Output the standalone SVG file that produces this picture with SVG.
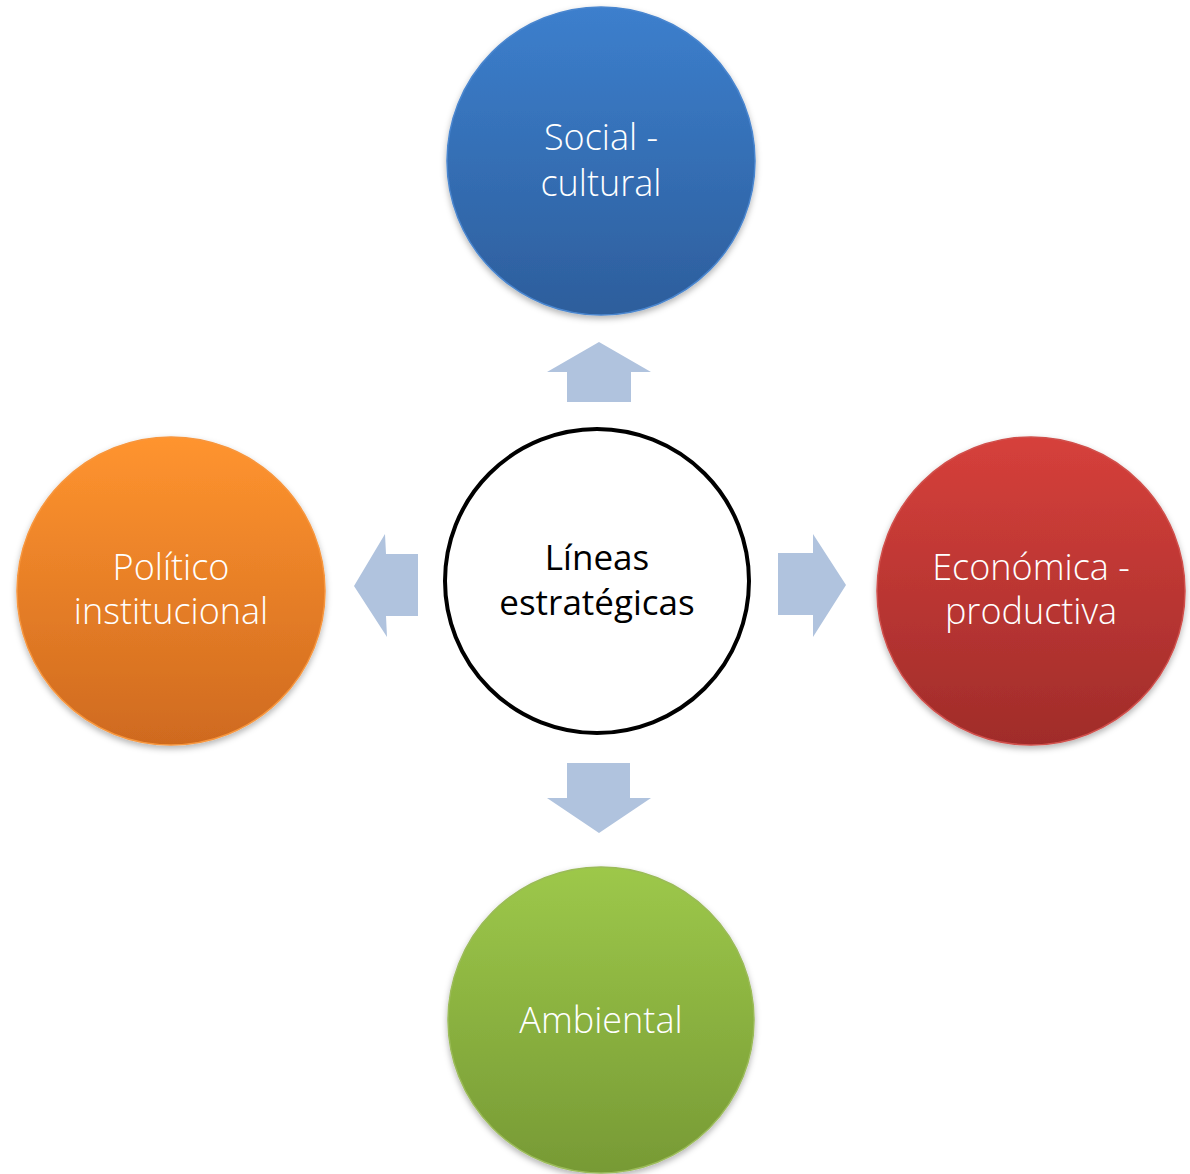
<svg xmlns="http://www.w3.org/2000/svg" width="1190" height="1174" viewBox="0 0 1190 1174">
<style>
.lbl{font-family:"Open Sans","Liberation Sans",sans-serif;font-size:36px;fill:#ffffff;text-anchor:middle;font-weight:300}
.ctr{font-family:"Open Sans","Liberation Sans",sans-serif;font-size:35px;fill:#000000;text-anchor:middle}
.arrow{fill:#b0c3de}
</style>
<defs>
<linearGradient id="gBlue" x1="0" y1="0" x2="0" y2="1"><stop offset="0" stop-color="#3c7fcd"/><stop offset="1" stop-color="#2d5e9c"/></linearGradient>
<linearGradient id="gOrange" x1="0" y1="0" x2="0" y2="1"><stop offset="0" stop-color="#ff942f"/><stop offset="1" stop-color="#cf6a1f"/></linearGradient>
<linearGradient id="gRed" x1="0" y1="0" x2="0" y2="1"><stop offset="0" stop-color="#d6403b"/><stop offset="1" stop-color="#a02c2a"/></linearGradient>
<linearGradient id="gGreen" x1="0" y1="0" x2="0" y2="1"><stop offset="0" stop-color="#9dc84a"/><stop offset="1" stop-color="#779a35"/></linearGradient>
<filter id="sh" x="-20%" y="-20%" width="140%" height="140%"><feDropShadow dx="0" dy="3" stdDeviation="3" flood-color="#000" flood-opacity="0.3"/></filter>
</defs>
<g id="connectors">
<polygon class="arrow" points="599,342 651,372 631,372 631,402 567,402 567,372 547,372"/>
<polygon class="arrow" points="354,586 385,534 386,554 418,554 418,616 386,616 387,637"/>
<polygon class="arrow" points="846,585 813,534 813,553 778,553 778,615 813,615 813,637"/>
<polygon class="arrow" points="599,833 651,798 630,798 630,763 567,763 567,798 547,798"/>
</g>
<g id="node-center">
<circle cx="597" cy="581" r="152" fill="#ffffff" stroke="#000000" stroke-width="4"/>
<text class="ctr" x="597" y="570">Líneas</text>
<text class="ctr" x="597" y="615">estratégicas</text>
</g>
<g id="node-social">
<circle cx="601" cy="161" r="154" fill="url(#gBlue)" stroke="#4a86cf" stroke-width="1.5" filter="url(#sh)"/>
<text class="lbl" x="601" y="150">Social -</text>
<text class="lbl" x="601" y="196">cultural</text>
</g>
<g id="node-politico">
<circle cx="171" cy="591" r="154" fill="url(#gOrange)" stroke="#f7963e" stroke-width="1.5" filter="url(#sh)"/>
<text class="lbl" x="171" y="580">Político</text>
<text class="lbl" x="171" y="624">institucional</text>
</g>
<g id="node-economica">
<circle cx="1031" cy="591" r="154" fill="url(#gRed)" stroke="#d0504c" stroke-width="1.5" filter="url(#sh)"/>
<text class="lbl" x="1031" y="580">Económica -</text>
<text class="lbl" x="1031" y="624">productiva</text>
</g>
<g id="node-ambiental">
<circle cx="601" cy="1020" r="153" fill="url(#gGreen)" stroke="#9bbb59" stroke-width="1.5" filter="url(#sh)"/>
<text class="lbl" x="601" y="1033">Ambiental</text>
</g>
</svg>
